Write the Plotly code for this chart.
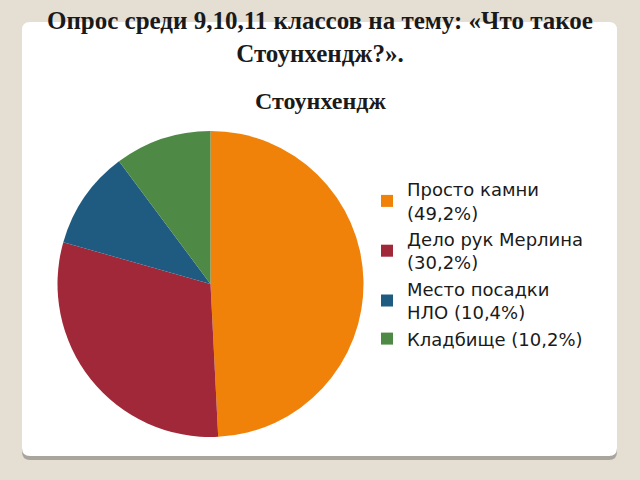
import plotly.graph_objects as go

W, H = 640, 480

labels = ["Просто камни<br>(49,2%)", "Дело рук Мерлина<br>(30,2%)",
          "Место посадки<br>НЛО (10,4%)", "Кладбище (10,2%)"]
values = [49.2, 30.2, 10.4, 10.2]
colors = ["#F0820A", "#A02838", "#1F5A80", "#4E8A45"]

title_lines = ["Опрос среди 9,10,11 классов на тему: «Что такое", "Стоунхендж?»."]
chart_title = "Стоунхендж"


def px(x, y):
    return x / W, 1 - y / H


def rounded_rect(x0, y0, x1, y1, r):
    # path in paper coords, pixel inputs
    def p(x, y):
        a, b = px(x, y)
        return f"{a:.5f},{b:.5f}"
    return " ".join([
        f"M {p(x0 + r, y0)}", f"L {p(x1 - r, y0)}",
        f"Q {p(x1, y0)} {p(x1, y0 + r)}", f"L {p(x1, y1 - r)}",
        f"Q {p(x1, y1)} {p(x1 - r, y1)}", f"L {p(x0 + r, y1)}",
        f"Q {p(x0, y1)} {p(x0, y1 - r)}", f"L {p(x0, y0 + r)}",
        f"Q {p(x0, y0)} {p(x0 + r, y0)} Z",
    ])


fig = go.Figure()
fig.add_trace(go.Pie(
    labels=labels, values=values, sort=False, direction="clockwise", rotation=0,
    marker=dict(colors=colors), textinfo="none", hoverinfo="label+value",
    domain=dict(x=[57 / W, 364 / W], y=[1 - 437 / H, 1 - 131 / H]),
))

fig.update_layout(
    width=W, height=H,
    margin=dict(l=0, r=0, t=0, b=0),
    paper_bgcolor="#E4DED3",
    plot_bgcolor="#E4DED3",
    showlegend=True,
    legend=dict(x=367 / W, y=1 - 171 / H, xanchor="left", yanchor="top",
                font=dict(family="DejaVu Sans", size=18, color="#1a1a1a"),
                bgcolor="rgba(0,0,0,0)", itemwidth=30),
    shapes=[
        dict(type="path", xref="paper", yref="paper",
             path=rounded_rect(22, 26, 617, 460, 8),
             fillcolor="#A9A59C", line=dict(width=0), layer="below"),
        dict(type="path", xref="paper", yref="paper",
             path=rounded_rect(22, 22, 617, 456, 8),
             fillcolor="white", line=dict(width=0), layer="below"),
    ],
    annotations=[
        dict(text="<br>".join("<b>" + t + "</b>" for t in title_lines),
             x=0.5, y=1 - 5 / H, xref="paper", yref="paper",
             xanchor="center", yanchor="top", showarrow=False,
             font=dict(family="Liberation Serif", size=25, color="#1a1a1a")),
        dict(text="<b>" + chart_title + "</b>", x=0.5, y=1 - 86 / H, xref="paper", yref="paper",
             xanchor="center", yanchor="top", showarrow=False,
             font=dict(family="Liberation Serif", size=24, color="#1a1a1a")),
    ],
)

fig.write_html("out.html", config={"displayModeBar": False},
               post_script="document.body.style.margin='0';")
